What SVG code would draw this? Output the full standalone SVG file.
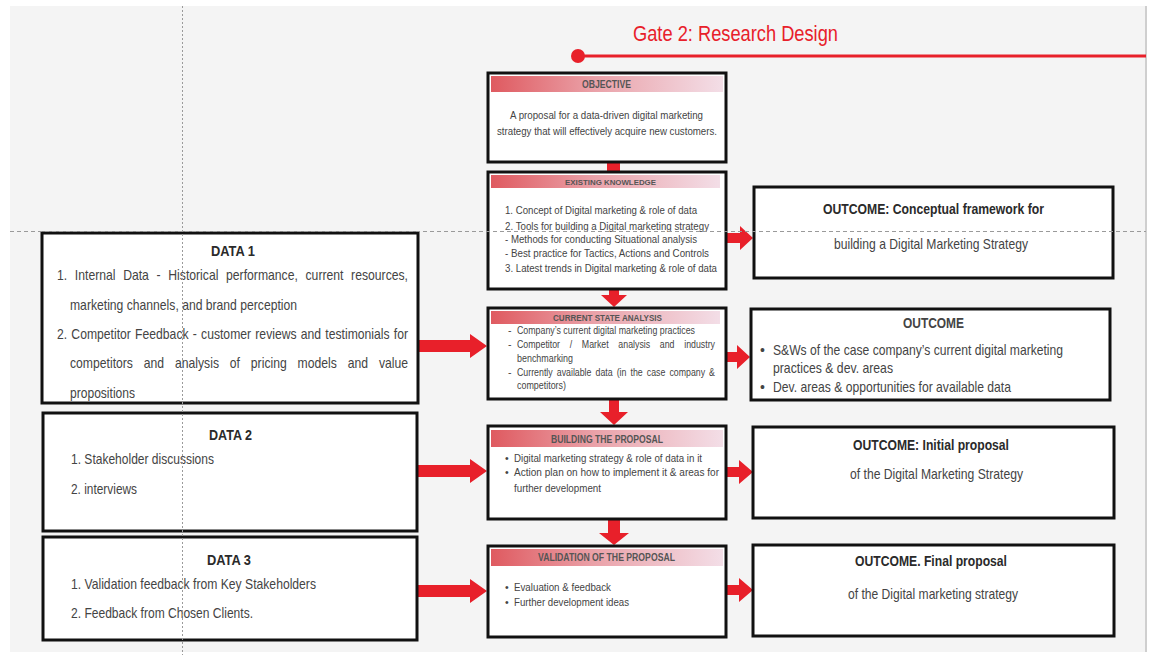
<svg xmlns="http://www.w3.org/2000/svg" width="1149" height="655" viewBox="0 0 1149 655">
<defs>
<linearGradient id="hdr" x1="0" y1="0" x2="1" y2="0">
<stop offset="0" stop-color="#df5a60"/>
<stop offset="0.45" stop-color="#eaa2a9"/>
<stop offset="1" stop-color="#f3dee7"/>
</linearGradient>
<style>
.box{fill:#ffffff;stroke:#111;stroke-width:3}
.hd{fill:url(#hdr)}
.ht{font-family:"Liberation Sans",Arial,sans-serif;font-weight:bold;fill:#555}
.t{font-family:"Liberation Sans",Arial,sans-serif;fill:#444}
.b{font-weight:bold;fill:#2a2a2a}
.arr{fill:#e8202a}
.guide{stroke:#9a9a9a;stroke-width:1;fill:none}
</style>
</defs>
<rect x="0" y="0" width="1149" height="655" fill="#ffffff"/>
<rect x="10" y="6" width="1136" height="646" fill="#f4f4f4"/>
<rect x="1145" y="6" width="2" height="646" fill="#cfcfcf"/>

<g id="title">
<text x="633" y="41" font-family="Liberation Sans,Arial,sans-serif" font-size="22" fill="#e8202a" textLength="205" lengthAdjust="spacingAndGlyphs">Gate 2: Research Design</text>
<line x1="578" y1="56" x2="1146" y2="56" stroke="#e8202a" stroke-width="3"/>
<circle cx="578" cy="56" r="7" fill="#e8202a"/>
</g>

<g id="connectors">
<rect class="arr" x="607" y="162" width="13" height="10"/>
<path class="arr" d="M609 289 H619 V295 H627 L614 307 L601 295 H609 Z"/>
<path class="arr" d="M609 399 H619 V412 H628 L614 425 L600 412 H609 Z"/>
<path class="arr" d="M608 519 H620 V533 H629 L614 545 L599 533 H608 Z"/>
<path class="arr" d="M419 340 H470 V334 L487 346 L470 358 V352 H419 Z"/>
<path class="arr" d="M417 465 H470 V459 L487 471 L470 483 V477 H417 Z"/>
<path class="arr" d="M417 585 H470 V579 L487 591 L470 603 V597 H417 Z"/>
<path class="arr" d="M727 233 H740 V226 L753 238 L740 250 V243 H727 Z"/>
<path class="arr" d="M727 352 H737 V345 L750 357 L737 369 V362 H727 Z"/>
<path class="arr" d="M727 467 H739 V460 L753 472 L739 484 V477 H727 Z"/>
<path class="arr" d="M727 585 H739 V578 L753 590 L739 602 V595 H727 Z"/>
</g>

<g id="objective">
<rect class="box" x="488" y="73" width="238" height="89"/>
<rect class="hd" x="491" y="76" width="232" height="16"/>
<text class="ht" x="582" y="88" font-size="10.5" textLength="49" lengthAdjust="spacingAndGlyphs">OBJECTIVE</text>
<text class="t" x="510" y="119" font-size="11.5" textLength="193" lengthAdjust="spacingAndGlyphs">A proposal for a data-driven digital marketing</text>
<text class="t" x="497" y="135" font-size="11.5" textLength="220" lengthAdjust="spacingAndGlyphs">strategy that will effectively acquire new customers.</text>
</g>

<g id="existing-knowledge">
<rect class="box" x="488" y="172" width="238" height="117"/>
<rect class="hd" x="491" y="175" width="229" height="13"/>
<text class="ht" x="565" y="185" font-size="8" textLength="91" lengthAdjust="spacingAndGlyphs">EXISTING KNOWLEDGE</text>
<text class="t" x="505" y="214" font-size="11.5" textLength="192" lengthAdjust="spacingAndGlyphs">1. Concept of Digital marketing &amp; role of data</text>
<text class="t" x="505" y="230" font-size="11.5" textLength="204" lengthAdjust="spacingAndGlyphs">2. Tools for building a Digital marketing strategy</text>
<text class="t" x="505" y="243" font-size="11.5" textLength="192" lengthAdjust="spacingAndGlyphs">- Methods for conducting Situational analysis</text>
<text class="t" x="505" y="257" font-size="11.5" textLength="204" lengthAdjust="spacingAndGlyphs">- Best practice for Tactics, Actions and Controls</text>
<text class="t" x="505" y="272" font-size="11.5" textLength="212" lengthAdjust="spacingAndGlyphs">3. Latest trends in Digital marketing &amp; role of data</text>
</g>

<g id="current-state">
<rect class="box" x="488" y="308" width="238" height="91"/>
<rect class="hd" x="491" y="311" width="229" height="13"/>
<text class="ht" x="553" y="321" font-size="8.5" textLength="109" lengthAdjust="spacingAndGlyphs">CURRENT STATE ANALYSIS</text>
<text class="t" x="508" y="334" font-size="10.5">-</text>
<text class="t" x="517" y="334" font-size="10.5" textLength="178" lengthAdjust="spacingAndGlyphs">Company’s current digital marketing practices</text>
<text class="t" x="508" y="348" font-size="10.5">-</text>
<text class="t" x="517" y="348" font-size="10.5" word-spacing="8.6" textLength="198" lengthAdjust="spacingAndGlyphs">Competitor / Market analysis and industry</text>
<text class="t" x="517" y="362" font-size="10.5" textLength="56" lengthAdjust="spacingAndGlyphs">benchmarking</text>
<text class="t" x="508" y="376" font-size="10.5" fill="#222">-</text>
<text class="t" x="517" y="376" font-size="10.5" fill="#222" word-spacing="1.9" textLength="198" lengthAdjust="spacingAndGlyphs">Currently available data (in the case company &amp;</text>
<text class="t" x="517" y="389" font-size="10.5" fill="#222" textLength="49" lengthAdjust="spacingAndGlyphs">competitors)</text>
</g>

<g id="building-proposal">
<rect class="box" x="488" y="426" width="238" height="93"/>
<rect class="hd" x="491" y="430" width="232" height="17"/>
<text class="ht" x="551" y="443" font-size="11" textLength="112" lengthAdjust="spacingAndGlyphs">BUILDING THE PROPOSAL</text>
<text class="t" x="505" y="462" font-size="10.5">•</text>
<text class="t" x="514" y="462" font-size="11" textLength="188" lengthAdjust="spacingAndGlyphs">Digital marketing strategy &amp; role of data in it</text>
<text class="t" x="505" y="476" font-size="10.5">•</text>
<text class="t" x="514" y="476" font-size="11" textLength="205" lengthAdjust="spacingAndGlyphs">Action plan on how to implement it &amp; areas for</text>
<text class="t" x="514" y="492" font-size="11" textLength="87" lengthAdjust="spacingAndGlyphs">further development</text>
</g>

<g id="validation">
<rect class="box" x="488" y="546" width="238" height="91"/>
<rect class="hd" x="491" y="549" width="232" height="17"/>
<text class="ht" x="538" y="561" font-size="11.5" textLength="137" lengthAdjust="spacingAndGlyphs">VALIDATION OF THE PROPOSAL</text>
<text class="t" x="505" y="591" font-size="10.5">•</text>
<text class="t" x="514" y="591" font-size="11" textLength="97" lengthAdjust="spacingAndGlyphs">Evaluation &amp; feedback</text>
<text class="t" x="505" y="606" font-size="10.5">•</text>
<text class="t" x="514" y="606" font-size="11" textLength="115" lengthAdjust="spacingAndGlyphs">Further development ideas</text>
</g>

<g id="outcome-1">
<rect class="box" x="754" y="187" width="359" height="91"/>
<text class="t b" x="823" y="214" font-size="15" textLength="221" lengthAdjust="spacingAndGlyphs">OUTCOME: Conceptual framework for</text>
<text class="t" x="834" y="249" font-size="15" fill="#555" textLength="194" lengthAdjust="spacingAndGlyphs">building a Digital Marketing Strategy</text>
</g>

<g id="outcome-2">
<rect class="box" x="751" y="309" width="359" height="91"/>
<text class="t" x="903" y="328" font-size="15" font-weight="bold" fill="#444" textLength="61" lengthAdjust="spacingAndGlyphs">OUTCOME</text>
<text class="t" x="760" y="355" font-size="14">•</text>
<text class="t" x="773" y="355" font-size="15" fill="#222" textLength="290" lengthAdjust="spacingAndGlyphs">S&amp;Ws of the case company’s current digital marketing</text>
<text class="t" x="773" y="373" font-size="15" fill="#222" textLength="120" lengthAdjust="spacingAndGlyphs">practices &amp; dev. areas</text>
<text class="t" x="760" y="392" font-size="14">•</text>
<text class="t" x="773" y="392" font-size="15" fill="#333" textLength="238" lengthAdjust="spacingAndGlyphs">Dev. areas &amp; opportunities for available data</text>
</g>

<g id="outcome-3">
<rect class="box" x="753" y="427" width="361" height="91"/>
<text class="t b" x="853" y="450" font-size="15" textLength="156" lengthAdjust="spacingAndGlyphs">OUTCOME: Initial proposal</text>
<text class="t" x="850" y="479" font-size="15" fill="#555" textLength="173" lengthAdjust="spacingAndGlyphs">of the Digital Marketing Strategy</text>
</g>

<g id="outcome-4">
<rect class="box" x="753" y="545" width="361" height="91"/>
<text class="t b" x="855" y="566" font-size="15" textLength="152" lengthAdjust="spacingAndGlyphs">OUTCOME. Final proposal</text>
<text class="t" x="848" y="599" font-size="15" fill="#555" textLength="170" lengthAdjust="spacingAndGlyphs">of the Digital marketing strategy</text>
</g>

<g id="data-1">
<rect class="box" x="42" y="233" width="376" height="170"/>
<text class="t b" x="211" y="256" font-size="15" fill="#333" textLength="44" lengthAdjust="spacingAndGlyphs">DATA 1</text>
<text class="t" x="57" y="280" font-size="14.5" word-spacing="5.1" textLength="351" lengthAdjust="spacingAndGlyphs">1. Internal Data - Historical performance, current resources,</text>
<text class="t" x="70" y="310" font-size="14.5" textLength="227" lengthAdjust="spacingAndGlyphs">marketing channels, and brand perception</text>
<text class="t" x="57" y="339" font-size="14.5" word-spacing="1" textLength="351" lengthAdjust="spacingAndGlyphs">2. Competitor Feedback - customer reviews and testimonials for</text>
<text class="t" x="70" y="368" font-size="14.5" word-spacing="8.9" textLength="338" lengthAdjust="spacingAndGlyphs">competitors and analysis of pricing models and value</text>
<text class="t" x="70" y="398" font-size="14.5" textLength="65" lengthAdjust="spacingAndGlyphs">propositions</text>
</g>

<g id="data-2">
<rect class="box" x="43" y="413" width="374" height="118"/>
<text class="t b" x="209" y="440" font-size="15" fill="#333" textLength="43" lengthAdjust="spacingAndGlyphs">DATA 2</text>
<text class="t" x="71" y="464" font-size="14.5" textLength="143" lengthAdjust="spacingAndGlyphs">1. Stakeholder discussions</text>
<text class="t" x="71" y="494" font-size="14.5" textLength="66" lengthAdjust="spacingAndGlyphs">2. interviews</text>
</g>

<g id="data-3">
<rect class="box" x="43" y="537" width="374" height="103"/>
<text class="t b" x="207" y="565" font-size="15" fill="#333" textLength="44" lengthAdjust="spacingAndGlyphs">DATA 3</text>
<text class="t" x="71" y="589" font-size="14.5" textLength="245" lengthAdjust="spacingAndGlyphs">1. Validation feedback from Key Stakeholders</text>
<text class="t" x="71" y="618" font-size="14.5" textLength="182" lengthAdjust="spacingAndGlyphs">2. Feedback from Chosen Clients.</text>
</g>

<g id="guides">
<line class="guide" x1="182.5" y1="6" x2="182.5" y2="655" stroke-dasharray="2 2"/>
<line class="guide" x1="10" y1="231.5" x2="1146" y2="231.5" stroke-dasharray="4 3"/>
</g>
</svg>
